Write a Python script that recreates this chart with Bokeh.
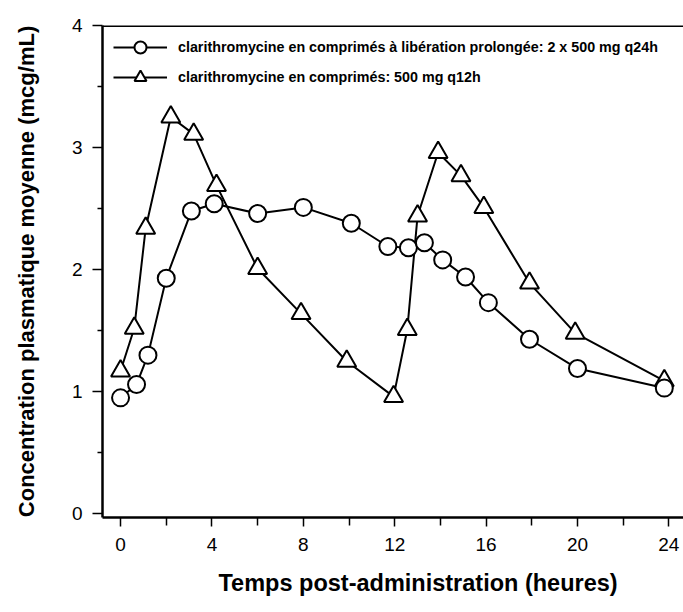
from bokeh.plotting import figure
from bokeh.models import FixedTicker, Span, Legend, LegendItem, Title
from bokeh.embed import file_html
from bokeh.resources import INLINE

# Data
t_er = [0, 0.7, 1.2, 2.0, 3.1, 4.1, 6.0, 8.0, 10.1, 11.7, 12.6, 13.3, 14.1, 15.1, 16.1, 17.9, 20.0, 23.8]
c_er = [0.95, 1.06, 1.30, 1.93, 2.48, 2.54, 2.46, 2.51, 2.38, 2.19, 2.18, 2.22, 2.08, 1.94, 1.73, 1.43, 1.19, 1.03]

t_ir = [0, 0.6, 1.1, 2.2, 3.2, 4.2, 6.0, 7.9, 9.9, 11.95, 12.55, 13.0, 13.9, 14.9, 15.9, 17.9, 19.9, 23.8]
c_ir = [1.17, 1.52, 2.34, 3.25, 3.11, 2.69, 2.01, 1.64, 1.25, 0.96, 1.51, 2.44, 2.96, 2.77, 2.51, 1.89, 1.48, 1.09]

x_ticks = [0, 4, 8, 12, 16, 20, 24]
x_minor = [2, 6, 10, 14, 18, 22]
y_ticks = [0, 1, 2, 3, 4]
y_minor = [0.5, 1.5, 2.5, 3.5]

label_er = "clarithromycine en comprimés à libération prolongée: 2 x 500 mg q24h"
label_ir = "clarithromycine en comprimés: 500 mg q12h"
x_title = "Temps post-administration (heures)"
y_title = "Concentration plasmatique moyenne (mcg/mL)"

FONT = "Liberation Sans"

p = figure(width=683, height=612, x_range=(-0.79, 24.64), y_range=(-0.03, 4.0),
           output_backend="svg", toolbar_location=None,
           min_border_left=102, min_border_right=0, min_border_top=25, min_border_bottom=95)
p.grid.visible = False
p.outline_line_color = None
p.background_fill_color = "white"
p.border_fill_color = "white"

# top border line
p.add_layout(Span(location=4.0, dimension="width", line_color="black", line_width=3))

l_ir = p.line(t_ir, c_ir, line_color="black", line_width=2)
l_er = p.line(t_er, c_er, line_color="black", line_width=2)
s_ir = p.scatter(t_ir, c_ir, marker="triangle", size=19, fill_color="white",
                 line_color="black", line_width=2)
s_er = p.scatter(t_er, c_er, marker="circle", size=17, fill_color="white",
                 line_color="black", line_width=2)

xa = p.xaxis[0]
xa.ticker = FixedTicker(ticks=x_ticks, minor_ticks=x_minor)
ya = p.yaxis[0]
ya.ticker = FixedTicker(ticks=y_ticks, minor_ticks=y_minor)

for ax in (xa, ya):
    ax.axis_line_width = 2.5
    ax.axis_line_color = "black"
    ax.major_tick_line_width = 1.5
    ax.minor_tick_line_width = 1.5
    ax.major_tick_line_color = "black"
    ax.minor_tick_line_color = "black"
    ax.major_tick_in = 0
    ax.minor_tick_in = 0
    ax.major_label_text_font = FONT
    ax.major_label_text_font_size = "19px"
    ax.major_label_text_color = "black"
    ax.axis_label_text_font = FONT
    ax.axis_label_text_font_style = "bold"
    ax.axis_label_text_color = "black"

xa.major_tick_out = 9
xa.minor_tick_out = 8
xa.major_label_standoff = 11

ya.major_tick_out = 10
ya.minor_tick_out = 5
ya.major_label_standoff = 10
ya.axis_label = y_title
ya.axis_label_text_font_size = "22px"
ya.axis_label_standoff = 30

# x-axis title (the original figure is wider than the crop, so it sits right of centre)
xt = Title(text=x_title, align="left", offset=116, standoff=28,
           text_font=FONT, text_font_style="bold", text_font_size="23.5px",
           text_color="black")
p.add_layout(xt, "below")

legend = Legend(items=[LegendItem(label=label_er, renderers=[l_er, s_er]),
                       LegendItem(label=label_ir, renderers=[l_ir, s_ir])],
                location=(11, 425), margin=0, padding=0, spacing=0,
                glyph_width=54, glyph_height=30, label_standoff=11,
                label_text_font=FONT, label_text_font_style="bold",
                label_text_font_size="14.3px", label_text_color="black",
                border_line_color=None, background_fill_alpha=0)
p.add_layout(legend)

open("out.html", "w").write(file_html(p, INLINE))
